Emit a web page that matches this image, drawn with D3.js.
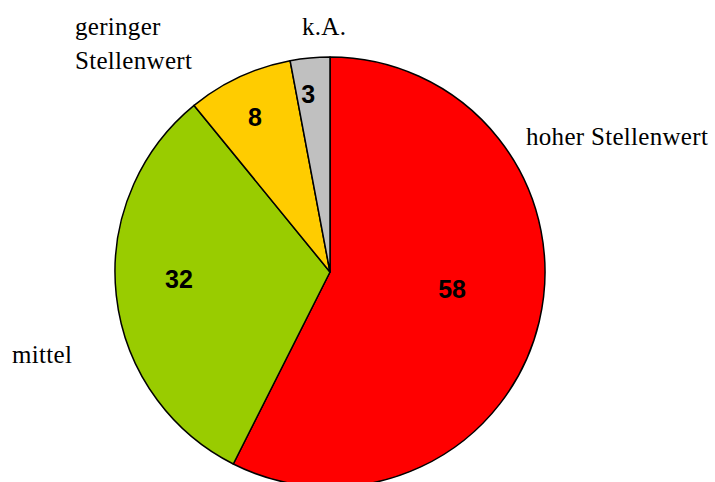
<!doctype html>
<html lang="de">
<head>
  <meta charset="utf-8">
  <script src="https://d3js.org/d3.v7.min.js"></script>
  <style>
    body { margin: 0; background: #fff; }
    svg { display: block; }
    .lab { font-family: "Liberation Serif", "Times New Roman", serif; font-size: 25px; letter-spacing: 0.3px; }
    .val { font-family: "Liberation Sans", Arial, sans-serif; font-weight: bold; font-size: 25px; }
  </style>
</head>
<body>
  <svg id="chart"></svg>
  <script>
    // data
    const categories = ["hoher Stellenwert", "mittel", "geringer Stellenwert", "k.A."];
    const values = [58, 32, 8, 3];
    const colors = ["#FF0000", "#99CC00", "#FFCC00", "#C0C0C0"];

    // label placement (relative to pie centre), text split into lines
    const outerLabels = [
      { lines: ["hoher Stellenwert"], dx: 196, dy: -127 },
      { lines: ["mittel"], dx: -318, dy: 91 },
      { lines: ["geringer", "Stellenwert"], dx: -255, dy: -237 },
      { lines: ["k.A."], dx: -28, dy: -237 }
    ];
    // value labels: fraction of radius, angle shift in degrees
    const valueRadius = [0.573, 0.703, 0.80, 0.836];
    const valueShift = [-5.5, 3.5, -0.9, -1.6];

    const width = 715, height = 482;
    const cx = 330, cy = 272, r = 215;

    const svg = d3.select("#chart")
      .attr("width", width)
      .attr("height", height);

    const pie = d3.pie().sort(null).value(d => d)(values);
    const arc = d3.arc().innerRadius(0).outerRadius(r);

    const g = svg.append("g").attr("transform", `translate(${cx},${cy})`);

    g.selectAll("path")
      .data(pie)
      .join("path")
        .attr("d", arc)
        .attr("fill", (d, i) => colors[i])
        .attr("stroke", "#000")
        .attr("stroke-width", 1.5)
        .attr("stroke-linejoin", "round");

    g.selectAll("text.val")
      .data(pie)
      .join("text")
        .attr("class", "val")
        .attr("transform", (d, i) => {
          const a = (d.startAngle + d.endAngle) / 2 + valueShift[i] * Math.PI / 180;
          const rr = r * valueRadius[i];
          return `translate(${rr * Math.sin(a)},${-rr * Math.cos(a)})`;
        })
        .attr("dy", "0.36em")
        .attr("text-anchor", "middle")
        .text(d => d.data);

    const lab = g.selectAll("text.lab")
      .data(outerLabels)
      .join("text")
        .attr("class", "lab")
        .attr("fill", "#000");

    lab.selectAll("tspan")
      .data(d => d.lines.map((t, j) => ({ t, j, p: d })))
      .join("tspan")
        .attr("x", d => d.p.dx)
        .attr("y", d => d.p.dy + d.j * 34)
        .text(d => d.t);
  </script>
</body>
</html>
